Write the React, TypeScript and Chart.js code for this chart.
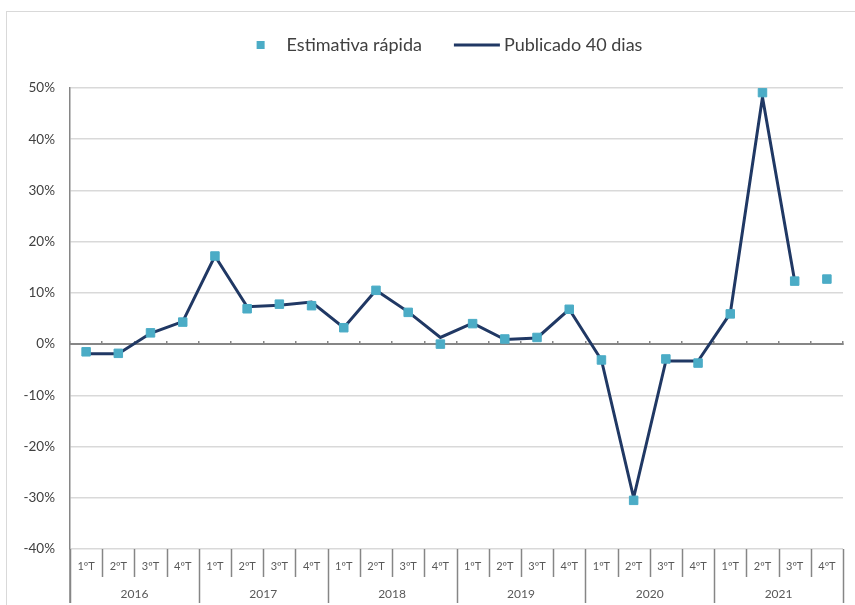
import React, { useEffect, useRef } from 'react';
import { Chart, registerables } from 'chart.js';

Chart.register(...registerables);

// ---- Data ----
const years = ['2016', '2017', '2018', '2019', '2020', '2021'];
const quarters = ['1ºT', '2ºT', '3ºT', '4ºT'];
const categories = years.flatMap((y) => quarters.map((q) => `${q} ${y}`));

const estimativaRapida = [
  -1.5, -1.8, 2.2, 4.3,
  17.2, 6.9, 7.8, 7.5,
  3.2, 10.5, 6.2, 0.0,
  4.0, 1.0, 1.3, 6.8,
  -3.1, -30.5, -2.9, -3.7,
  5.9, 49.1, 12.3, 12.7,
];

const publicado40Dias = [
  -1.9, -1.9, 2.1, 4.4,
  17.2, 7.3, 7.6, 8.2,
  3.2, 10.5, 6.3, 1.3,
  4.1, 0.9, 1.2, 6.8,
  -3.1, -30.0, -3.3, -3.3,
  6.0, 48.2, 12.3, null,
];

const yMin = -40;
const yMax = 50;
const yStep = 10;

const seriesNames = ['Estimativa rápida', 'Publicado 40 dias'];

const FONT = 'Lato, "Open Sans", sans-serif';
const MARKER = '#4BACC6';
const LINE = '#203864';
const AXIS = '#868686';

const framePlugin = {
  id: 'frame',
  beforeDraw(chart: any) {
    const ctx = chart.ctx;
    ctx.save();
    ctx.fillStyle = '#ffffff';
    ctx.fillRect(0, 0, chart.width, chart.height);
    ctx.strokeStyle = '#d9d9d9';
    ctx.lineWidth = 1;
    ctx.strokeRect(6.5, 11.5, chart.width + 20, chart.height + 20);
    ctx.restore();
  },
};

const tablePlugin = {
  id: 'catTable',
  afterDraw(chart: any) {
    const ctx = chart.ctx;
    const xs = chart.scales.x;
    const { left, right, bottom } = chart.chartArea;
    const n = categories.length;
    const tableBottom = chart.height - 2;
    const qBottom = bottom + 28;
    ctx.save();
    ctx.strokeStyle = AXIS;
    ctx.lineWidth = 1.5;
    // y-axis extension
    ctx.beginPath();
    ctx.moveTo(left, bottom);
    ctx.lineTo(left, tableBottom);
    ctx.stroke();
    const boundary = (i: number) => {
      if (i === 0) return left;
      if (i === n) return right;
      return (xs.getPixelForValue(i - 1) + xs.getPixelForValue(i)) / 2;
    };
    for (let i = 0; i <= n; i++) {
      const xb = Math.round(boundary(i)) + 0.5;
      ctx.beginPath();
      ctx.moveTo(xb, bottom);
      ctx.lineTo(xb, i % 4 === 0 ? tableBottom : qBottom);
      ctx.stroke();
    }
    ctx.fillStyle = '#595959';
    ctx.textAlign = 'center';
    ctx.textBaseline = 'middle';
    ctx.font = `11px ${FONT}`;
    for (let i = 0; i < n; i++) {
      ctx.fillText(quarters[i % 4], xs.getPixelForValue(i), bottom + 17);
    }
    ctx.font = `12px ${FONT}`;
    years.forEach((y, k) => {
      const cx = (boundary(k * 4) + boundary(k * 4 + 4)) / 2;
      ctx.fillText(y, cx, bottom + 45);
    });
    ctx.restore();
  },
};

const legendPlugin = {
  id: 'customLegend',
  afterDraw(chart: any) {
    const ctx = chart.ctx;
    const { left, right } = chart.chartArea;
    ctx.save();
    ctx.font = `18px ${FONT}`;
    ctx.textBaseline = 'middle';
    ctx.textAlign = 'left';
    ctx.fillStyle = '#404040';
    const w1 = ctx.measureText(seriesNames[0]).width;
    const w2 = ctx.measureText(seriesNames[1]).width;
    const sq = 8;
    const gap1 = 26;
    const between = 32;
    const lineLen = 46;
    const gap2 = 4;
    const total = sq / 2 + gap1 + w1 + between + lineLen + gap2 + w2 + sq / 2;
    const cy = 45;
    let x = (left + right) / 2 - total / 2 - 5;
    ctx.fillStyle = MARKER;
    ctx.fillRect(x, cy - sq / 2, sq, sq);
    x += sq / 2 + gap1;
    ctx.fillStyle = '#404040';
    ctx.fillText(seriesNames[0], x, cy);
    x += w1 + between;
    ctx.strokeStyle = LINE;
    ctx.lineWidth = 3;
    ctx.beginPath();
    ctx.moveTo(x, cy);
    ctx.lineTo(x + lineLen, cy);
    ctx.stroke();
    x += lineLen + gap2;
    ctx.fillText(seriesNames[1], x, cy);
    ctx.restore();
  },
};

export default function App() {
  const ref = useRef<HTMLCanvasElement | null>(null);

  useEffect(() => {
    if (!ref.current) return;
    const chart = new Chart(ref.current, {
      type: 'line',
      data: {
        labels: categories,
        datasets: [
          {
            label: seriesNames[0],
            data: estimativaRapida,
            showLine: false,
            pointStyle: 'rect',
            pointRadius: 6,
            pointHoverRadius: 6,
            pointBackgroundColor: MARKER,
            pointBorderColor: MARKER,
            pointBorderWidth: 1,
            backgroundColor: MARKER,
            borderColor: MARKER,
          },
          {
            label: seriesNames[1],
            data: publicado40Dias,
            borderColor: LINE,
            backgroundColor: LINE,
            borderWidth: 3,
            pointRadius: 0,
            pointHoverRadius: 0,
            tension: 0,
            spanGaps: false,
          },
        ],
      },
      options: {
        responsive: false,
        animation: false,
        devicePixelRatio: 1,
        layout: { padding: { top: 88, right: 12, bottom: 56, left: 0 } },
        plugins: {
          legend: { display: false },
          tooltip: { enabled: false },
        },
        scales: {
          x: {
            type: 'category',
            position: { y: 0 } as any,
            offset: true,
            grid: {
              display: true,
              drawOnChartArea: false,
              drawTicks: true,
              tickLength: -4,
              color: AXIS,
              lineWidth: 1.5,
              offset: true,
            },
            border: { display: true, color: AXIS, width: 2 },
            ticks: { display: false },
          },
          y: {
            min: yMin,
            max: yMax,
            afterFit(scale: any) {
              scale.width = 70;
            },
            ticks: {
              stepSize: yStep,
              padding: 15,
              color: '#404040',
              font: { family: FONT, size: 13.5 },
              callback: (v: any) => `${v}%`,
            },
            grid: {
              color: '#d9d9d9',
              lineWidth: 1.5,
              drawTicks: false,
            },
            border: { display: true, color: AXIS, width: 1.5 },
          },
        },
      },
      plugins: [framePlugin, tablePlugin, legendPlugin],
    });
    return () => chart.destroy();
  }, []);

  return (
    <div style={{ position: 'absolute', left: 0, top: 0, width: 855, height: 605 }}>
      <canvas ref={ref} width={855} height={605} />
    </div>
  );
}
